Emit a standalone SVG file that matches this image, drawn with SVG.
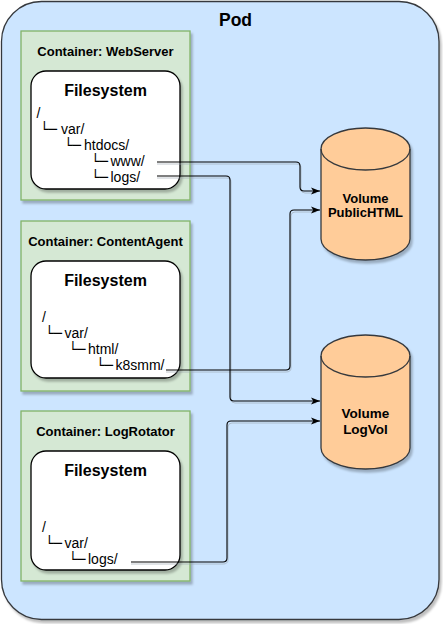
<svg xmlns="http://www.w3.org/2000/svg" width="443" height="624" viewBox="0 0 443 624">
<style>
.pod{fill:#cce5ff;stroke:#36393d;stroke-width:1.3}
.ctr{fill:#d5e8d4;stroke:#82b366;stroke-width:1.3}
.fs{fill:#ffffff;stroke:#000000;stroke-width:1.3}
.vol{fill:#ffcc99;stroke:#36393d;stroke-width:1.3}
.t{font-family:"Liberation Sans",Arial,Helvetica,sans-serif;fill:#000}
.b{font-weight:bold}
.tree{font-family:"Liberation Sans",Arial,Helvetica,sans-serif;font-size:14px;fill:#000}
.bx{font-family:"DejaVu Sans",sans-serif}
.conn{fill:none;stroke:#000;stroke-width:1.1}
.connsh{fill:none;stroke:#9aa4ad;stroke-width:1;opacity:0.6}
</style>
<defs>
<filter id="sh" x="-10%" y="-10%" width="130%" height="130%">
<feDropShadow dx="2" dy="3" stdDeviation="1" flood-color="#000" flood-opacity="0.25"/>
</filter>
<marker id="arr" viewBox="0 0 10 10" refX="10" refY="5" markerWidth="9" markerHeight="9" orient="auto" markerUnits="userSpaceOnUse">
<path d="M0,1 L10,5 L0,9 L2.5,5 Z" fill="#000"/>
</marker>
</defs>

<g id="pod">
<rect class="pod" x="1.5" y="1.5" width="437.5" height="618" rx="40" ry="40" filter="url(#sh)"/>
<text class="t b" x="235.5" y="26" font-size="17.5" text-anchor="middle">Pod</text>
</g>

<g id="container-webserver">
<rect class="ctr" x="21" y="31" width="169" height="169" filter="url(#sh)"/>
<text class="t b" x="105.5" y="55.5" font-size="13" text-anchor="middle">Container: WebServer</text>
</g>
<g id="fs-webserver">
<rect class="fs" x="31" y="71" width="149" height="118" rx="15" ry="15" filter="url(#sh)"/>
<text class="t b" x="105.5" y="96" font-size="16" text-anchor="middle">Filesystem</text>
<text class="tree" x="36.5" y="118">/</text>
<text class="tree" y="134"><tspan class="bx" x="40">└─</tspan> <tspan x="61">var/</tspan></text>
<text class="tree" y="150"><tspan class="bx" x="64">└─</tspan> <tspan x="84">htdocs/</tspan></text>
<text class="tree" y="166"><tspan class="bx" x="91">└─</tspan> <tspan x="110.5">www/</tspan></text>
<text class="tree" y="182"><tspan class="bx" x="91">└─</tspan> <tspan x="110.5">logs/</tspan></text>
</g>

<g id="container-contentagent">
<rect class="ctr" x="21" y="221" width="169" height="170" filter="url(#sh)"/>
<text class="t b" x="105.5" y="245.5" font-size="13" text-anchor="middle">Container: ContentAgent</text>
</g>
<g id="fs-contentagent">
<rect class="fs" x="31" y="261" width="149" height="117" rx="15" ry="15" filter="url(#sh)"/>
<text class="t b" x="105.5" y="286" font-size="16" text-anchor="middle">Filesystem</text>
<text class="tree" x="42" y="322">/</text>
<text class="tree" y="338"><tspan class="bx" x="45">└─</tspan> <tspan x="64.5">var/</tspan></text>
<text class="tree" y="354"><tspan class="bx" x="68.5">└─</tspan> <tspan x="88">html/</tspan></text>
<text class="tree" y="370"><tspan class="bx" x="96">└─</tspan> <tspan x="115.5">k8smm/</tspan></text>
</g>

<g id="container-logrotator">
<rect class="ctr" x="21" y="411" width="169" height="170" filter="url(#sh)"/>
<text class="t b" x="105.5" y="435.5" font-size="13" text-anchor="middle">Container: LogRotator</text>
</g>
<g id="fs-logrotator">
<rect class="fs" x="31" y="451" width="149" height="119" rx="15" ry="15" filter="url(#sh)"/>
<text class="t b" x="105.5" y="476" font-size="16" text-anchor="middle">Filesystem</text>
<text class="tree" x="42" y="531.5">/</text>
<text class="tree" y="547.5"><tspan class="bx" x="45">└─</tspan> <tspan x="64.5">var/</tspan></text>
<text class="tree" y="563.5"><tspan class="bx" x="68.5">└─</tspan> <tspan x="88">logs/</tspan></text>
</g>

<g id="volume-publichtml">
<path class="vol" filter="url(#sh)" d="M321,149 A44.5,21 0 0 1 410,149 L410,239 A44.5,21 0 0 1 321,239 Z"/>
<path class="vol" fill="none" d="M321,149 A44.5,21 0 0 0 410,149" style="fill:none"/>
<text class="t b" x="365.5" y="202.5" font-size="13" text-anchor="middle">Volume</text>
<text class="t b" x="365.5" y="217" font-size="13" text-anchor="middle">PublicHTML</text>
</g>

<g id="volume-logvol">
<path class="vol" filter="url(#sh)" d="M321,356 A44.5,21 0 0 1 410,356 L410,448 A44.5,21 0 0 1 321,448 Z"/>
<path class="vol" d="M321,356 A44.5,21 0 0 0 410,356" style="fill:none"/>
<text class="t b" x="365.5" y="418" font-size="13.5" text-anchor="middle">Volume</text>
<text class="t b" x="365.5" y="434" font-size="13.5" text-anchor="middle">LogVol</text>
</g>

<g id="connectors">
<path class="connsh" d="M157,164 H296 Q301,164 301,168 V189 Q301,193 305,193 H316"/>
<path class="connsh" d="M157,178 H226 Q231,178 231,182 V399 Q231,403 235,403 H316"/>
<path class="connsh" d="M166,372 H286 Q291,372 291,368 V216 Q291,212 295,212 H316"/>
<path class="connsh" d="M131,564 H223 Q228,564 228,560 V427 Q228,423 232,423 H316"/>
<path class="conn" marker-end="url(#arr)" d="M157,162 H296 Q300,162 300,166 V187 Q300,191 304,191 H320"/>
<path class="conn" marker-end="url(#arr)" d="M157,176 H226 Q230,176 230,180 V397 Q230,401 234,401 H320"/>
<path class="conn" marker-end="url(#arr)" d="M166,370 H286 Q290,370 290,366 V214 Q290,210 294,210 H320"/>
<path class="conn" marker-end="url(#arr)" d="M131,562 H223 Q227,562 227,558 V425 Q227,421 231,421 H320"/>
</g>
</svg>
